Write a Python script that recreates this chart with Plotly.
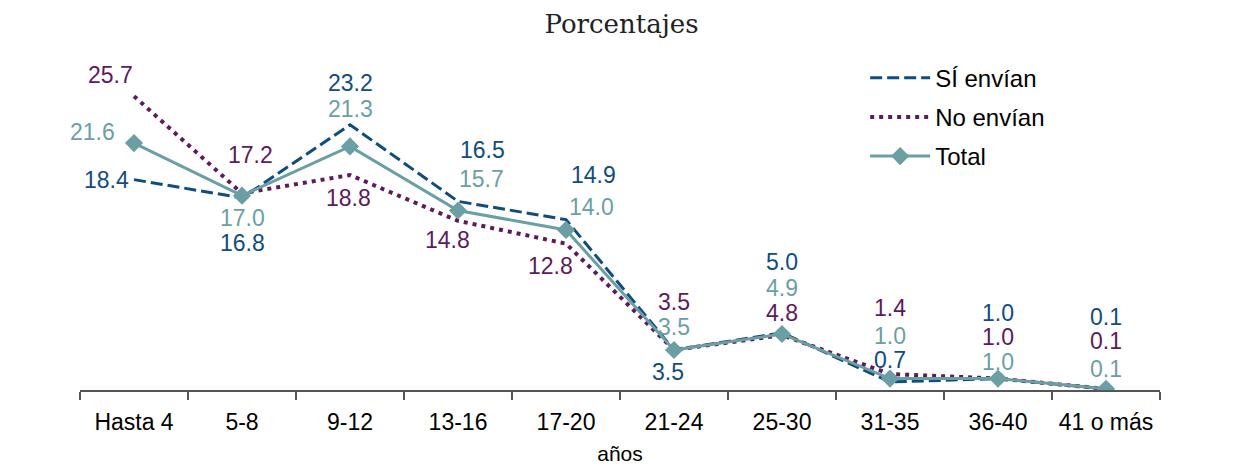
import plotly.graph_objects as go

categories = ["Hasta 4", "5-8", "9-12", "13-16", "17-20",
              "21-24", "25-30", "31-35", "36-40", "41 o más"]
si_envian = [18.4, 16.8, 23.2, 16.5, 14.9, 3.5, 5.0, 0.7, 1.0, 0.1]
no_envian = [25.7, 17.2, 18.8, 14.8, 12.8, 3.5, 4.8, 1.4, 1.0, 0.1]
total = [21.6, 17.0, 21.3, 15.7, 14.0, 3.5, 4.9, 1.0, 1.0, 0.1]

BLUE = "#0f4c81"
PURPLE = "#5e1a5c"
TEAL = "#6a9fa4"
SANS = "Liberation Sans, Arial"

# label offsets (xshift, yshift) per point, in pixels
si_off = [(-28, 0), (0, -45), (0, 42), (24, 51), (27, 45),
          (-6, -22), (0, 71), (0, 22), (0, 66), (0, 72)]
no_off = [(-24, 21), (8, 38), (-2, -23), (-11, -19), (-16, -22),
          (0, 48), (0, 22), (0, 66), (0, 42), (0, 48)]
tot_off = [(-42, 11), (0, -22), (0, 37), (23, 32), (25, 23),
           (0, 23), (0, 46), (0, 43), (0, 17), (0, 20)]

fig = go.Figure()
fig.add_trace(go.Scatter(x=categories, y=si_envian, name="SÍ envían", mode="lines",
                         legendgroup="a",
                         line=dict(color=BLUE, width=3, dash="12px,5px")))
fig.add_trace(go.Scatter(x=categories, y=no_envian, name="No envían", mode="lines",
                         legendgroup="b",
                         line=dict(color=PURPLE, width=4, dash="4px,5px")))
fig.add_trace(go.Scatter(x=categories, y=total, name="Total", mode="lines+markers",
                         legendgroup="c",
                         line=dict(color=TEAL, width=3),
                         marker=dict(symbol="diamond", size=14, color=TEAL)))

for vals, offs, col in [(si_envian, si_off, BLUE), (no_envian, no_off, PURPLE),
                        (total, tot_off, TEAL)]:
    for c, v, (dx, dy) in zip(categories, vals, offs):
        fig.add_annotation(x=c, y=v, text=f"{v:.1f}", showarrow=False,
                           xshift=dx, yshift=dy,
                           font=dict(family=SANS, size=23, color=col))

# page body adds an 8px margin, so the figure is 8px smaller
fig.update_layout(
    width=1227, height=465,
    margin=dict(l=72, r=75, t=39, b=83, autoexpand=False),
    paper_bgcolor="white", plot_bgcolor="white",
    title=dict(text="Porcentajes", x=0.5, xanchor="center", y=0.965, yanchor="middle",
               font=dict(family="DejaVu Serif, serif", size=26, color="#222")),
    legend=dict(x=0.727, y=0.975, xanchor="left", yanchor="top",
                font=dict(family=SANS, size=24, color="black"),
                bgcolor="rgba(0,0,0,0)", itemwidth=60, tracegroupgap=5),
    showlegend=True,
)
fig.update_xaxes(type="category", range=[-0.5, 9.5], showline=True, linecolor="#555",
                 linewidth=1.5, ticks="outside", tickson="boundaries", ticklen=8,
                 tickcolor="#555", tickwidth=1.5, showgrid=False, automargin=False,
                 ticklabelstandoff=11,
                 tickfont=dict(family=SANS, size=23, color="black"),
                 title=dict(text="años", standoff=12,
                            font=dict(family=SANS, size=21, color="black")))
fig.update_yaxes(range=[0, 30], visible=False, showgrid=False)

fig.write_html("out.html")
